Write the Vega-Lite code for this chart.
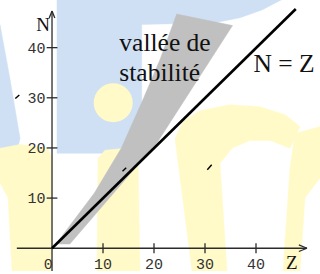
{
  "$schema": "https://vega.github.io/schema/vega-lite/v6.json",
  "width": 320,
  "height": 274,
  "autosize": {"type": "fit", "contains": "padding"},
  "padding": 0,
  "background": "white",
  "config": {"view": {"stroke": null}},
  "datasets": {
    "poly": [
      {"g": "blue", "s": "bA", "i": 0, "Z": 0.98, "N": 49.6},
      {"g": "blue", "s": "bA", "i": 1, "Z": 45.1, "N": 49.6},
      {"g": "blue", "s": "bA", "i": 2, "Z": 41.18, "N": 47.53},
      {"g": "blue", "s": "bA", "i": 3, "Z": 36.86, "N": 45.96},
      {"g": "blue", "s": "bA", "i": 4, "Z": 31.96, "N": 44.97},
      {"g": "blue", "s": "bA", "i": 5, "Z": 17.59, "N": 44.63},
      {"g": "blue", "s": "bA", "i": 6, "Z": 17.59, "N": 18.93},
      {"g": "blue", "s": "bA", "i": 7, "Z": 0.98, "N": 18.93},
      {"g": "blue", "s": "bB", "i": 0, "Z": -10.2, "N": 44.58},
      {"g": "blue", "s": "bB", "i": 1, "Z": -8.24, "N": 33.73},
      {"g": "blue", "s": "bB", "i": 2, "Z": -6.27, "N": 21.89},
      {"g": "blue", "s": "bB", "i": 3, "Z": -6.86, "N": 19.33},
      {"g": "blue", "s": "bB", "i": 4, "Z": -10.2, "N": 18.54},
      {"g": "yellow", "s": "yM", "i": 0, "Z": 9.02, "N": 17.95},
      {"g": "yellow", "s": "yM", "i": 1, "Z": 10.39, "N": 19.53},
      {"g": "yellow", "s": "yM", "i": 2, "Z": 14.31, "N": 19.92},
      {"g": "yellow", "s": "yM", "i": 3, "Z": 16.86, "N": 18.74},
      {"g": "yellow", "s": "yM", "i": 4, "Z": 17.25, "N": -4.54},
      {"g": "yellow", "s": "yM", "i": 5, "Z": 8.82, "N": -4.54},
      {"g": "yellow", "s": "yL", "i": 0, "Z": -10.2, "N": 19.92},
      {"g": "yellow", "s": "yL", "i": 1, "Z": -6.27, "N": 20.71},
      {"g": "yellow", "s": "yL", "i": 2, "Z": -0.78, "N": 19.92},
      {"g": "yellow", "s": "yL", "i": 3, "Z": 0, "N": 17.95},
      {"g": "yellow", "s": "yL", "i": 4, "Z": 0, "N": -4.54},
      {"g": "yellow", "s": "yL", "i": 5, "Z": -7.84, "N": -4.54},
      {"g": "yellow", "s": "yL", "i": 6, "Z": -8.63, "N": 10.06},
      {"g": "yellow", "s": "yL", "i": 7, "Z": -10.2, "N": 13.02},
      {"g": "yellow", "s": "yR", "i": 0, "Z": 24.12, "N": 21.89},
      {"g": "yellow", "s": "yR", "i": 1, "Z": 25.69, "N": 25.25},
      {"g": "yellow", "s": "yR", "i": 2, "Z": 29.02, "N": 27.42},
      {"g": "yellow", "s": "yR", "i": 3, "Z": 34.9, "N": 28.6},
      {"g": "yellow", "s": "yR", "i": 4, "Z": 40.78, "N": 28.2},
      {"g": "yellow", "s": "yR", "i": 5, "Z": 45.69, "N": 26.63},
      {"g": "yellow", "s": "yR", "i": 6, "Z": 48.63, "N": 24.26},
      {"g": "yellow", "s": "yR", "i": 7, "Z": 46.67, "N": 19.92},
      {"g": "yellow", "s": "yR", "i": 8, "Z": 42.75, "N": 21.5},
      {"g": "yellow", "s": "yR", "i": 9, "Z": 38.82, "N": 21.5},
      {"g": "yellow", "s": "yR", "i": 10, "Z": 35.29, "N": 19.92},
      {"g": "yellow", "s": "yR", "i": 11, "Z": 32.94, "N": 16.96},
      {"g": "yellow", "s": "yR", "i": 12, "Z": 34.31, "N": -4.54},
      {"g": "yellow", "s": "yR", "i": 13, "Z": 27.45, "N": -4.54},
      {"g": "yellow", "s": "yF", "i": 0, "Z": 47.65, "N": 22.88},
      {"g": "yellow", "s": "yF", "i": 1, "Z": 52.55, "N": 24.26},
      {"g": "yellow", "s": "yF", "i": 2, "Z": 52.55, "N": 14.0},
      {"g": "yellow", "s": "yF", "i": 3, "Z": 49.6, "N": 10.06},
      {"g": "yellow", "s": "yF", "i": 4, "Z": 48.63, "N": -4.54},
      {"g": "yellow", "s": "yF", "i": 5, "Z": 45.29, "N": -4.54},
      {"g": "yellow", "s": "yF", "i": 6, "Z": 46.67, "N": 15.98},
      {"g": "gray", "s": "vallee", "i": 0, "Z": 0.78, "N": 0.85},
      {"g": "gray", "s": "vallee", "i": 1, "Z": 3.5, "N": 0.85},
      {"g": "gray", "s": "vallee", "i": 2, "Z": 20.7, "N": 21.2},
      {"g": "gray", "s": "vallee", "i": 3, "Z": 35.4, "N": 44.4},
      {"g": "gray", "s": "vallee", "i": 4, "Z": 24.45, "N": 46.7},
      {"g": "gray", "s": "vallee", "i": 5, "Z": 21.2, "N": 37.7},
      {"g": "gray", "s": "vallee", "i": 6, "Z": 17.9, "N": 29.8},
      {"g": "gray", "s": "vallee", "i": 7, "Z": 13.6, "N": 20.0},
      {"g": "gray", "s": "vallee", "i": 8, "Z": 8.3, "N": 11.0}
    ],
    "circ": [{"Z": 12.0, "N": 29.0}],
    "segs": [
      {"k": "ax", "Z": -6.9, "N": 0, "Z2": 50, "N2": 0},
      {"k": "ax", "Z": 0, "N": -4.54, "Z2": 0, "N2": 47.3},
      {"k": "ax", "Z": 50, "N": 0, "Z2": 48.4, "N2": 0.65},
      {"k": "ax", "Z": 50, "N": 0, "Z2": 48.4, "N2": -0.65},
      {"k": "ax", "Z": 0, "N": 47.3, "Z2": -0.55, "N2": 45.9},
      {"k": "ax", "Z": 0, "N": 47.3, "Z2": 0.55, "N2": 45.9},
      {"k": "ax", "Z": 10, "N": -1, "Z2": 10, "N2": 1},
      {"k": "ax", "Z": 20, "N": -1, "Z2": 20, "N2": 1},
      {"k": "ax", "Z": 30, "N": -1, "Z2": 30, "N2": 1},
      {"k": "ax", "Z": 40, "N": -1, "Z2": 40, "N2": 1},
      {"k": "ax", "Z": -1.05, "N": 10, "Z2": 1.05, "N2": 10},
      {"k": "ax", "Z": -1.05, "N": 20, "Z2": 1.05, "N2": 20},
      {"k": "ax", "Z": -1.05, "N": 30, "Z2": 1.05, "N2": 30},
      {"k": "ax", "Z": -1.05, "N": 40, "Z2": 1.05, "N2": 40},
      {"k": "nz", "Z": 0, "N": 0, "Z2": 47.8, "N2": 47.7},
      {"k": "art", "Z": -7.2, "N": 29.84, "Z2": -6.41, "N2": 30.57},
      {"k": "art", "Z": 13.82, "N": 15.33, "Z2": 14.55, "N2": 16.07},
      {"k": "art", "Z": 30.45, "N": 15.64, "Z2": 31.31, "N2": 16.63}
    ],
    "lbl": [
      {"k": "ty", "t": "40", "Z": -1.27, "N": 40},
      {"k": "ty", "t": "30", "Z": -1.27, "N": 30},
      {"k": "ty", "t": "20", "Z": -1.27, "N": 20},
      {"k": "ty", "t": "10", "Z": -1.27, "N": 10},
      {"k": "tx", "t": "0", "Z": -0.75, "N": -3.1},
      {"k": "tx", "t": "10", "Z": 10, "N": -3.1},
      {"k": "tx", "t": "20", "Z": 20, "N": -3.1},
      {"k": "tx", "t": "30", "Z": 30, "N": -3.1},
      {"k": "tx", "t": "40", "Z": 40, "N": -3.1},
      {"k": "axl", "t": "N", "Z": -1.76, "N": 43.25},
      {"k": "axl", "t": "Z", "Z": 47.0, "N": -4.2},
      {"k": "big", "t": "vallée de", "Z": 13.2, "N": 39.35},
      {"k": "big", "t": "stabilité", "Z": 13.2, "N": 33.4},
      {"k": "big", "t": "N = Z", "Z": 39.5, "N": 35.2}
    ]
  },
  "encoding": {
    "x": {"field": "Z", "type": "quantitative", "scale": {"domain": [-10.2, 52.55], "nice": false, "zero": false}, "axis": null},
    "y": {"field": "N", "type": "quantitative", "scale": {"domain": [-4.54, 49.5], "nice": false, "zero": false}, "axis": null}
  },
  "layer": [
    {
      "data": {"name": "poly"},
      "transform": [{"filter": "datum.g == 'blue'"}],
      "mark": {"type": "line", "interpolate": "linear-closed", "fill": "#cfe0f5", "stroke": "#cfe0f5", "strokeWidth": 0.5, "clip": true},
      "encoding": {"detail": {"field": "s"}, "order": {"field": "i", "type": "quantitative"}}
    },
    {
      "data": {"name": "poly"},
      "transform": [{"filter": "datum.g == 'yellow'"}],
      "mark": {"type": "line", "interpolate": "linear-closed", "fill": "#fffac8", "stroke": "#fffac8", "strokeWidth": 0.5, "clip": true},
      "encoding": {"detail": {"field": "s"}, "order": {"field": "i", "type": "quantitative"}}
    },
    {
      "data": {"name": "circ"},
      "mark": {"type": "point", "shape": "circle", "filled": true, "size": 1520, "color": "#fffac8", "opacity": 1},
      "encoding": {}
    },
    {
      "data": {"name": "poly"},
      "transform": [{"filter": "datum.g == 'gray'"}],
      "mark": {"type": "line", "interpolate": "linear-closed", "fill": "#c0c0c0", "stroke": "#c0c0c0", "strokeWidth": 0.5},
      "encoding": {"detail": {"field": "s"}, "order": {"field": "i", "type": "quantitative"}}
    },
    {
      "data": {"name": "segs"},
      "transform": [{"filter": "datum.k == 'ax'"}],
      "mark": {"type": "rule", "color": "#2b2b2b", "strokeWidth": 1.3, "clip": true},
      "encoding": {"x2": {"field": "Z2"}, "y2": {"field": "N2"}}
    },
    {
      "data": {"name": "segs"},
      "transform": [{"filter": "datum.k == 'nz'"}],
      "mark": {"type": "rule", "color": "#000000", "strokeWidth": 2.6, "strokeCap": "butt"},
      "encoding": {"x2": {"field": "Z2"}, "y2": {"field": "N2"}}
    },
    {
      "data": {"name": "segs"},
      "transform": [{"filter": "datum.k == 'art'"}],
      "mark": {"type": "rule", "color": "#000000", "strokeWidth": 1.4},
      "encoding": {"x2": {"field": "Z2"}, "y2": {"field": "N2"}}
    },
    {
      "data": {"name": "lbl"},
      "transform": [{"filter": "datum.k == 'ty'"}],
      "mark": {"type": "text", "font": "Liberation Mono", "fontSize": 15, "color": "#333333", "align": "right", "baseline": "middle"},
      "encoding": {"text": {"field": "t"}}
    },
    {
      "data": {"name": "lbl"},
      "transform": [{"filter": "datum.k == 'tx'"}],
      "mark": {"type": "text", "font": "Liberation Mono", "fontSize": 15, "color": "#333333", "align": "center", "baseline": "middle"},
      "encoding": {"text": {"field": "t"}}
    },
    {
      "data": {"name": "lbl"},
      "transform": [{"filter": "datum.k == 'axl'"}],
      "mark": {"type": "text", "font": "Liberation Serif", "fontSize": 19, "color": "#111111", "align": "center", "baseline": "alphabetic"},
      "encoding": {"text": {"field": "t"}}
    },
    {
      "data": {"name": "lbl"},
      "transform": [{"filter": "datum.k == 'big'"}],
      "mark": {"type": "text", "font": "Liberation Serif", "fontSize": 25.5, "color": "#111111", "align": "left", "baseline": "alphabetic"},
      "encoding": {"text": {"field": "t"}}
    }
  ]
}
